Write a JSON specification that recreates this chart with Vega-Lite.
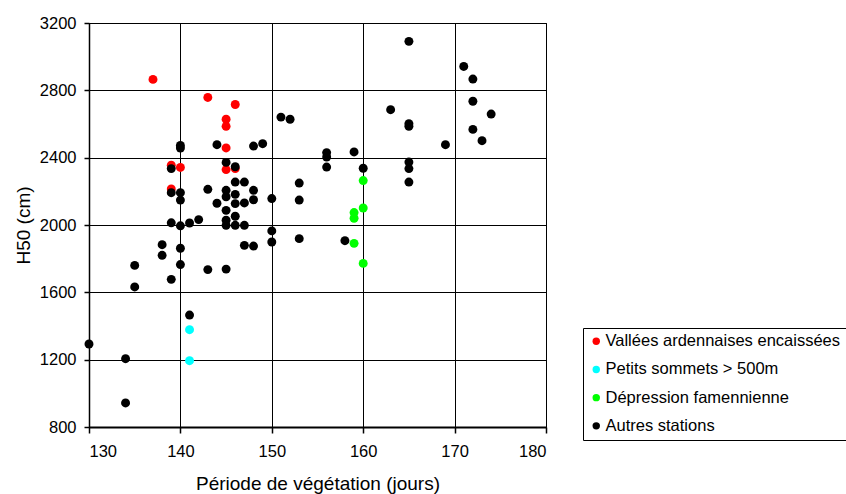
{
  "$schema": "https://vega.github.io/schema/vega-lite/v6.json",
  "autosize": "none",
  "padding": {"left": 89, "top": 23, "right": 300, "bottom": 67},
  "width": 457,
  "height": 404,
  "background": "white",
  "config": {
    "font": "Liberation Sans",
    "view": {"stroke": "black", "strokeWidth": 1},
    "axis": {
      "gridColor": "#000000",
      "gridWidth": 1,
      "gridOpacity": 1,
      "domainColor": "#000000",
      "tickColor": "#000000",
      "labelColor": "#000000",
      "titleColor": "#000000",
      "labelFont": "Liberation Sans",
      "titleFont": "Liberation Sans",
      "labelFontSize": 16.5,
      "titleFontSize": 19,
      "titleFontWeight": "normal"
    },
    "legend": {
      "labelFont": "Liberation Sans"
    }
  },
  "data": {
    "values": [
      {"jours": 137, "H50": 2865, "groupe": "Vallées ardennaises encaissées"},
      {"jours": 143, "H50": 2758, "groupe": "Vallées ardennaises encaissées"},
      {"jours": 146, "H50": 2716, "groupe": "Vallées ardennaises encaissées"},
      {"jours": 145, "H50": 2628, "groupe": "Vallées ardennaises encaissées"},
      {"jours": 145, "H50": 2586, "groupe": "Vallées ardennaises encaissées"},
      {"jours": 145, "H50": 2458, "groupe": "Vallées ardennaises encaissées"},
      {"jours": 139, "H50": 2355, "groupe": "Vallées ardennaises encaissées"},
      {"jours": 140, "H50": 2342, "groupe": "Vallées ardennaises encaissées"},
      {"jours": 145, "H50": 2329, "groupe": "Vallées ardennaises encaissées"},
      {"jours": 146, "H50": 2335, "groupe": "Vallées ardennaises encaissées"},
      {"jours": 139, "H50": 2214, "groupe": "Vallées ardennaises encaissées"},
      {"jours": 141, "H50": 1378, "groupe": "Petits sommets > 500m"},
      {"jours": 141, "H50": 1194, "groupe": "Petits sommets > 500m"},
      {"jours": 160, "H50": 2264, "groupe": "Dépression famennienne"},
      {"jours": 160, "H50": 2101, "groupe": "Dépression famennienne"},
      {"jours": 159, "H50": 2074, "groupe": "Dépression famennienne"},
      {"jours": 159, "H50": 2040, "groupe": "Dépression famennienne"},
      {"jours": 159, "H50": 1891, "groupe": "Dépression famennienne"},
      {"jours": 160, "H50": 1772, "groupe": "Dépression famennienne"},
      {"jours": 140, "H50": 2473, "groupe": "Autres stations"},
      {"jours": 140, "H50": 2457, "groupe": "Autres stations"},
      {"jours": 144, "H50": 2477, "groupe": "Autres stations"},
      {"jours": 148, "H50": 2469, "groupe": "Autres stations"},
      {"jours": 149, "H50": 2483, "groupe": "Autres stations"},
      {"jours": 151, "H50": 2641, "groupe": "Autres stations"},
      {"jours": 152, "H50": 2628, "groupe": "Autres stations"},
      {"jours": 156, "H50": 2430, "groupe": "Autres stations"},
      {"jours": 156, "H50": 2404, "groupe": "Autres stations"},
      {"jours": 156, "H50": 2344, "groupe": "Autres stations"},
      {"jours": 139, "H50": 2335, "groupe": "Autres stations"},
      {"jours": 145, "H50": 2372, "groupe": "Autres stations"},
      {"jours": 146, "H50": 2346, "groupe": "Autres stations"},
      {"jours": 146, "H50": 2255, "groupe": "Autres stations"},
      {"jours": 147, "H50": 2255, "groupe": "Autres stations"},
      {"jours": 153, "H50": 2249, "groupe": "Autres stations"},
      {"jours": 139, "H50": 2192, "groupe": "Autres stations"},
      {"jours": 140, "H50": 2192, "groupe": "Autres stations"},
      {"jours": 140, "H50": 2148, "groupe": "Autres stations"},
      {"jours": 143, "H50": 2212, "groupe": "Autres stations"},
      {"jours": 145, "H50": 2206, "groupe": "Autres stations"},
      {"jours": 145, "H50": 2168, "groupe": "Autres stations"},
      {"jours": 146, "H50": 2182, "groupe": "Autres stations"},
      {"jours": 148, "H50": 2206, "groupe": "Autres stations"},
      {"jours": 148, "H50": 2150, "groupe": "Autres stations"},
      {"jours": 147, "H50": 2131, "groupe": "Autres stations"},
      {"jours": 146, "H50": 2127, "groupe": "Autres stations"},
      {"jours": 144, "H50": 2129, "groupe": "Autres stations"},
      {"jours": 150, "H50": 2157, "groupe": "Autres stations"},
      {"jours": 153, "H50": 2148, "groupe": "Autres stations"},
      {"jours": 145, "H50": 2087, "groupe": "Autres stations"},
      {"jours": 146, "H50": 2052, "groupe": "Autres stations"},
      {"jours": 145, "H50": 2028, "groupe": "Autres stations"},
      {"jours": 139, "H50": 2013, "groupe": "Autres stations"},
      {"jours": 140, "H50": 1995, "groupe": "Autres stations"},
      {"jours": 141, "H50": 2012, "groupe": "Autres stations"},
      {"jours": 142, "H50": 2032, "groupe": "Autres stations"},
      {"jours": 145, "H50": 1998, "groupe": "Autres stations"},
      {"jours": 146, "H50": 1998, "groupe": "Autres stations"},
      {"jours": 147, "H50": 1998, "groupe": "Autres stations"},
      {"jours": 150, "H50": 1965, "groupe": "Autres stations"},
      {"jours": 150, "H50": 1899, "groupe": "Autres stations"},
      {"jours": 153, "H50": 1919, "groupe": "Autres stations"},
      {"jours": 147, "H50": 1879, "groupe": "Autres stations"},
      {"jours": 148, "H50": 1875, "groupe": "Autres stations"},
      {"jours": 138, "H50": 1883, "groupe": "Autres stations"},
      {"jours": 138, "H50": 1820, "groupe": "Autres stations"},
      {"jours": 140, "H50": 1862, "groupe": "Autres stations"},
      {"jours": 135, "H50": 1760, "groupe": "Autres stations"},
      {"jours": 140, "H50": 1765, "groupe": "Autres stations"},
      {"jours": 143, "H50": 1735, "groupe": "Autres stations"},
      {"jours": 145, "H50": 1738, "groupe": "Autres stations"},
      {"jours": 139, "H50": 1677, "groupe": "Autres stations"},
      {"jours": 135, "H50": 1632, "groupe": "Autres stations"},
      {"jours": 141, "H50": 1465, "groupe": "Autres stations"},
      {"jours": 130, "H50": 1293, "groupe": "Autres stations"},
      {"jours": 134, "H50": 1206, "groupe": "Autres stations"},
      {"jours": 134, "H50": 943, "groupe": "Autres stations"},
      {"jours": 165, "H50": 3091, "groupe": "Autres stations"},
      {"jours": 171, "H50": 2942, "groupe": "Autres stations"},
      {"jours": 172, "H50": 2867, "groupe": "Autres stations"},
      {"jours": 172, "H50": 2735, "groupe": "Autres stations"},
      {"jours": 174, "H50": 2659, "groupe": "Autres stations"},
      {"jours": 172, "H50": 2568, "groupe": "Autres stations"},
      {"jours": 173, "H50": 2501, "groupe": "Autres stations"},
      {"jours": 163, "H50": 2685, "groupe": "Autres stations"},
      {"jours": 165, "H50": 2602, "groupe": "Autres stations"},
      {"jours": 165, "H50": 2586, "groupe": "Autres stations"},
      {"jours": 169, "H50": 2477, "groupe": "Autres stations"},
      {"jours": 159, "H50": 2434, "groupe": "Autres stations"},
      {"jours": 160, "H50": 2337, "groupe": "Autres stations"},
      {"jours": 165, "H50": 2374, "groupe": "Autres stations"},
      {"jours": 165, "H50": 2335, "groupe": "Autres stations"},
      {"jours": 165, "H50": 2255, "groupe": "Autres stations"},
      {"jours": 158, "H50": 1907, "groupe": "Autres stations"}
    ]
  },
  "mark": {"type": "circle", "size": 80, "opacity": 1},
  "encoding": {
    "x": {
      "field": "jours",
      "type": "quantitative",
      "scale": {"domain": [130, 180], "nice": false, "zero": false},
      "axis": {
        "title": "Période de végétation (jours)",
        "values": [130, 140, 150, 160, 170, 180],
        "format": "d",
        "tickSize": 6,
        "tickWidth": 1.5,
        "domainWidth": 2,
        "labelPadding": 10,
        "titlePadding": 15
      }
    },
    "y": {
      "field": "H50",
      "type": "quantitative",
      "scale": {"domain": [800, 3200], "nice": false, "zero": false},
      "axis": {
        "title": "H50 (cm)",
        "values": [800, 1200, 1600, 2000, 2400, 2800, 3200],
        "format": "d",
        "tickSize": 5,
        "tickWidth": 1.5,
        "domainWidth": 1.5,
        "labelPadding": 8,
        "titlePadding": 6
      }
    },
    "color": {
      "field": "groupe",
      "type": "nominal",
      "sort": null,
      "scale": {
        "domain": ["Vallées ardennaises encaissées", "Petits sommets > 500m", "Dépression famennienne", "Autres stations"],
        "range": ["#FF0000", "#00FFFF", "#00FF00", "#000000"]
      },
      "legend": {
        "title": null,
        "orient": "none",
        "legendX": 494,
        "legendY": 305,
        "strokeColor": "#000000",
        "padding": 5,
        "symbolType": "circle",
        "symbolSize": 55,
        "symbolStrokeWidth": 0,
        "labelFontSize": 16.5,
        "labelColor": "#000000",
        "labelOffset": 1,
        "rowPadding": 11.2,
        "labelLimit": 400
      }
    }
  }
}
